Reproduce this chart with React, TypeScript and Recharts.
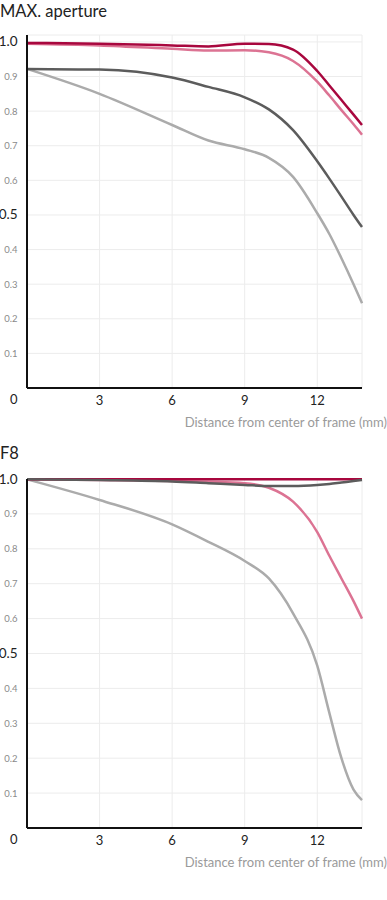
import { CartesianGrid, Line, LineChart, XAxis, YAxis } from "recharts";

// distance from center of frame (mm)
const dist = [0, 3, 6, 7.5, 9, 10, 11, 12, 12.5, 13, 13.5, 13.85];

// MAX. aperture
const maxS10 = [0.997, 0.995, 0.99, 0.987, 0.995, 0.994, 0.978, 0.916, 0.874, 0.832, 0.79, 0.76];
const maxM10 = [0.995, 0.99, 0.98, 0.975, 0.976, 0.97, 0.945, 0.885, 0.845, 0.803, 0.762, 0.732];
const maxS30 = [0.922, 0.92, 0.897, 0.87, 0.84, 0.805, 0.745, 0.655, 0.605, 0.553, 0.5, 0.465];
const maxM30 = [0.922, 0.85, 0.76, 0.715, 0.69, 0.665, 0.61, 0.505, 0.445, 0.375, 0.3, 0.245];

// F8
const f8S10 = [0.999, 0.999, 0.999, 0.999, 0.999, 0.999, 0.999, 0.999, 0.999, 0.999, 0.999, 0.999];
const f8M10 = [0.999, 0.997, 0.994, 0.992, 0.988, 0.975, 0.935, 0.848, 0.78, 0.715, 0.65, 0.6];
const f8S30 = [0.999, 0.997, 0.993, 0.988, 0.983, 0.98, 0.98, 0.983, 0.986, 0.99, 0.994, 0.997];
const f8M30 = [0.999, 0.94, 0.87, 0.82, 0.765, 0.715, 0.615, 0.465, 0.33, 0.2, 0.11, 0.08];

const yTicks = [0, 0.1, 0.2, 0.3, 0.4, 0.5, 0.6, 0.7, 0.8, 0.9, 1.0];
const xTicks = [0, 3, 6, 9, 12];

const FONT = "Lato, 'Noto Sans', sans-serif";

function YTick(props: any) {
  const { y, payload } = props;
  const v = payload.value as number;
  if (v === 0) {
    return (
      <text x={17.5} y={y + 16} textAnchor="end" fontSize={13} fill="#222" fontFamily={FONT}>
        0
      </text>
    );
  }
  const big = v === 1 || v === 0.5;
  return (
    <text
      x={17.5}
      y={y + (big ? 4.5 : 3.5)}
      textAnchor="end"
      fontSize={big ? 13.5 : 9.5}
      fill={big ? "#222" : "#8a8a8a"}
      fontFamily={FONT}
    >
      {big ? v.toFixed(1) : String(v)}
    </text>
  );
}

function XTick(props: any) {
  const { x, y, payload } = props;
  if (payload.value === 0) return <g />;
  return (
    <text x={x} y={y + 8.5} textAnchor="middle" fontSize={13} fill="#222" fontFamily={FONT}>
      {payload.value}
    </text>
  );
}

function Panel({
  title,
  titleTop,
  s10,
  m10,
  s30,
  m30,
  top,
  yMax,
}: {
  title: string;
  titleTop: number;
  s10: number[];
  m10: number[];
  s30: number[];
  m30: number[];
  top: number;
  yMax: number;
}) {
  const data = dist.map((d, i) => ({ d, s10: s10[i], m10: m10[i], s30: s30[i], m30: m30[i] }));
  return (
    <div style={{ position: "relative", width: 387, height: 440 }}>
      <div
        style={{
          position: "absolute",
          left: 0,
          top: titleTop,
          fontFamily: FONT,
          fontSize: 16.5,
          lineHeight: "17px",
          color: "#222",
        }}
      >
        {title}
      </div>
      <LineChart
        width={387}
        height={440}
        data={data}
        margin={{ top, right: 25, bottom: 0, left: 0 }}
      >
        <CartesianGrid stroke="#ececec" strokeWidth={1} />
        <XAxis
          dataKey="d"
          type="number"
          domain={[0, 13.85]}
          ticks={xTicks}
          tick={<XTick />}
          tickLine={false}
          axisLine={{ stroke: "#111", strokeWidth: 2 }}
          height={52}
          label={{
            value: "Distance from center of frame (mm)",
            position: "insideBottomRight",
            offset: 0,
            dx: 25,
            dy: -13,
            fontSize: 13,
            fill: "#9a9a9a",
            fontFamily: FONT,
          }}
        />
        <YAxis
          type="number"
          domain={[0, yMax]}
          ticks={yTicks}
          tick={<YTick />}
          tickLine={false}
          axisLine={{ stroke: "#111", strokeWidth: 2 }}
          width={27}
        />
        <Line dataKey="m30" type="monotone" stroke="#ababab" strokeWidth={2.5} dot={false} isAnimationActive={false} />
        <Line dataKey="m10" type="monotone" stroke="#dc7393" strokeWidth={2.5} dot={false} isAnimationActive={false} />
        <Line dataKey="s10" type="monotone" stroke="#a8073e" strokeWidth={2.5} dot={false} isAnimationActive={false} />
        <Line dataKey="s30" type="monotone" stroke="#5c5c5c" strokeWidth={2.5} dot={false} isAnimationActive={false} />
      </LineChart>
    </div>
  );
}

export default function App() {
  return (
    <div style={{ position: "absolute", left: 0, top: 0, width: 387, height: 900, background: "#fff" }}>
      <Panel title="MAX. aperture" titleTop={3} s10={maxS10} m10={maxM10} s30={maxS30} m30={maxM30} top={35} yMax={1.02} />
      <Panel title="F8" titleTop={5} s10={f8S10} m10={f8M10} s30={f8S30} m30={f8M30} top={39} yMax={1.0} />
    </div>
  );
}
